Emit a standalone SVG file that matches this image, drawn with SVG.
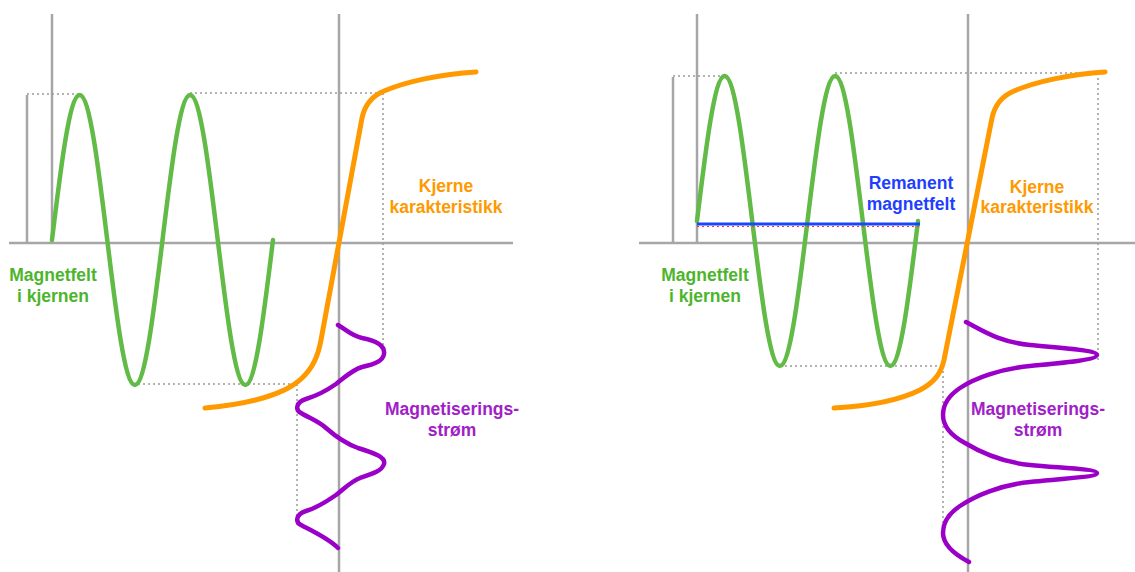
<svg xmlns="http://www.w3.org/2000/svg" width="1135" height="572" viewBox="0 0 1135 572">
<style>
.axis{stroke:#a6a6a6;stroke-width:2.5;fill:none}
.dot{stroke:#9a9a9a;stroke-width:1.5;stroke-dasharray:2 3;fill:none}
.green{stroke:#62bb46;stroke-width:4.5;fill:none;stroke-linecap:round}
.orange{stroke:#ff9900;stroke-width:5;fill:none;stroke-linecap:round;stroke-linejoin:round}
.purple{stroke:#9b00c8;stroke-width:4.5;fill:none;stroke-linecap:round}
text{font-family:"Liberation Sans",Arial,sans-serif;font-weight:bold;font-size:17.5px;text-anchor:middle}
.tg{fill:#4cb52c}.to{fill:#ff9900}.tp{fill:#a020c8}.tb{fill:#1f3fff}
</style>
<rect width="1135" height="572" fill="#ffffff"/>
<g id="left-panel">
  <g id="left-axes">
    <line class="axis" x1="9" y1="243" x2="513" y2="243"/>
    <line class="axis" x1="52" y1="14" x2="52" y2="243"/>
    <line class="axis" x1="27" y1="95" x2="27" y2="243"/>
    <line class="axis" x1="339" y1="14" x2="339" y2="572"/>
  </g>
  <g id="left-guides">
    <line class="dot" x1="27" y1="94" x2="79" y2="94"/>
    <line class="dot" x1="190" y1="93" x2="383" y2="93"/>
    <line class="dot" x1="383" y1="93" x2="383" y2="350"/>
    <line class="dot" x1="133" y1="384" x2="297" y2="384"/>
    <line class="dot" x1="297" y1="384" x2="297" y2="525"/>
  </g>
  <g id="left-field">
    <path class="green" d="M52,240 C61.01,165.72 69.63,95 79.625,95 C89.62,95 98.24,165.72 107.25,240 C116.26,314.28 124.88,385 134.875,385 C144.87,385 153.49,314.28 162.5,240 C171.51,165.72 180.13,95 190.125,95 C200.12,95 208.74,165.72 217.75,240 C226.76,314.28 235.38,385 245.375,385 C255.37,385 263.99,314.28 273,240"/>
    <text class="tg" x="53" y="281">Magnetfelt</text>
    <text class="tg" x="53" y="302">i kjernen</text>
  </g>
  <g id="left-core">
    <path class="orange" d="M205,408 C250,404 285,394 301,379 C313,368 318,356 321,340 L362,118 C365,104 372,96 384,91 C405,82 440,74 476,72"/>
    <text class="to" x="446" y="192">Kjerne</text>
    <text class="to" x="446" y="213">karakteristikk</text>
  </g>
  <g id="left-current">
    <path class="purple" d="M338,325 C348,331 352,336 362,338 C378,341 385,347 384,354 C383,361 375,364 362,367 C352,370 345,377 336,384 C326,391 316,396 306,399 C296,402 295,410 301,413 C309,418 318,421 326,428 C334,435 344,443 358,448 C374,453 386,457 384,464 C382,471 372,474 360,478 C350,482 344,489 336,495 C326,502 316,508 306,511 C296,514 295,522 301,525 C310,530 328,538 338,548"/>
    <text class="tp" x="452" y="415">Magnetiserings-</text>
    <text class="tp" x="452" y="436">strøm</text>
  </g>
</g>
<g id="right-panel">
  <g id="right-axes">
    <line class="axis" x1="639" y1="243" x2="1135" y2="243"/>
    <line class="axis" x1="697" y1="14" x2="697" y2="243"/>
    <line class="axis" x1="673" y1="77" x2="673" y2="243"/>
    <line class="axis" x1="968" y1="14" x2="968" y2="572"/>
  </g>
  <g id="right-guides">
    <line class="dot" x1="673" y1="76" x2="725" y2="76"/>
    <line class="dot" x1="835" y1="73" x2="1098" y2="73"/>
    <line class="dot" x1="1098" y1="73" x2="1098" y2="360"/>
    <line class="dot" x1="780" y1="366" x2="943" y2="366"/>
    <line class="dot" x1="943" y1="366" x2="943" y2="533"/>
  </g>
  <g id="right-field">
    <path class="green" transform="translate(645,-19)" d="M52,240 C61.01,165.72 69.63,95 79.625,95 C89.62,95 98.24,165.72 107.25,240 C116.26,314.28 124.88,385 134.875,385 C144.87,385 153.49,314.28 162.5,240 C171.51,165.72 180.13,95 190.125,95 C200.12,95 208.74,165.72 217.75,240 C226.76,314.28 235.38,385 245.375,385 C255.37,385 263.99,314.28 273,240"/>
    <text class="tg" x="705" y="281">Magnetfelt</text>
    <text class="tg" x="705" y="302">i kjernen</text>
  </g>
  <g id="right-remanent">
    <line x1="697" y1="226.5" x2="920" y2="226.5" stroke="#ff3030" stroke-width="1.2" stroke-dasharray="2 3"/>
    <line x1="697" y1="224" x2="920" y2="224" stroke="#1a46ff" stroke-width="3"/>
    <text class="tb" x="911" y="189">Remanent</text>
    <text class="tb" x="911" y="210">magnetfelt</text>
  </g>
  <g id="right-core">
    <path class="orange" d="M834,408 C870,406 900,400 920,390 C935,382 941,373 944,360 L992,118 C995,104 1002,96 1014,91 C1035,82 1070,74 1105,72"/>
    <text class="to" x="1037" y="193">Kjerne</text>
    <text class="to" x="1037" y="213">karakteristikk</text>
  </g>
  <g id="right-current">
    <path class="purple" d="M966,322 C985,332 1000,342 1030,345 C1060,348 1097,350 1097,355 C1097,360 1060,363 1030,366 C1000,369 975,378 960,388 C948,396 943,405 943,415 C943,425 950,435 965,443 C980,452 1000,462 1030,465 C1060,468 1097,469 1097,473 C1097,477 1060,479 1030,482 C1000,485 975,496 960,506 C948,514 943,523 943,533 C943,543 952,553 969,562"/>
    <text class="tp" x="1038" y="415">Magnetiserings-</text>
    <text class="tp" x="1038" y="436">strøm</text>
  </g>
</g>
</svg>
